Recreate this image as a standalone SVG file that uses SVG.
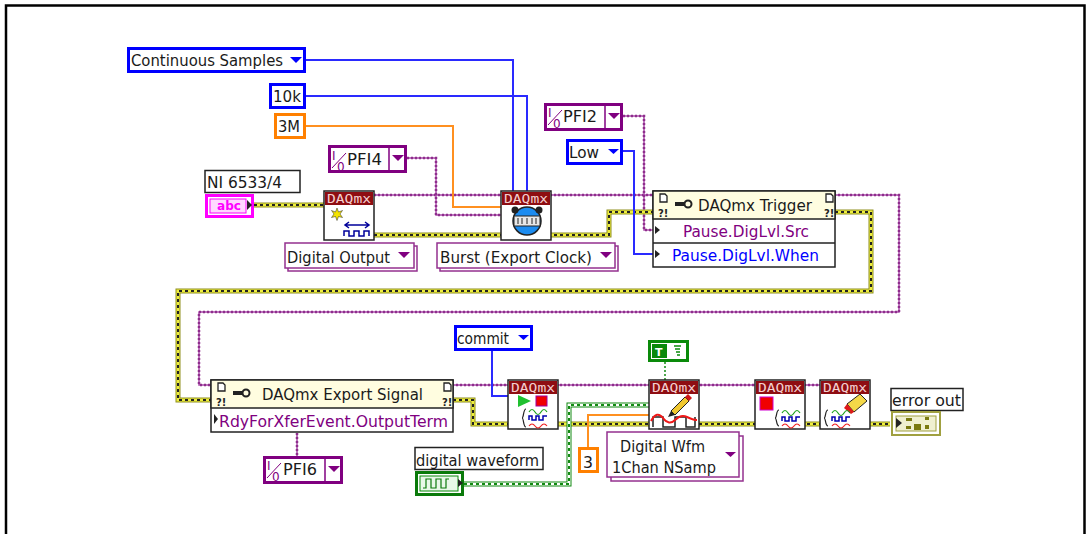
<svg xmlns="http://www.w3.org/2000/svg" width="1086" height="534" viewBox="0 0 1086 534">
<style>
text{font-family:"DejaVu Sans","Liberation Sans",sans-serif;font-size:16px;fill:#1a1a1a}
.box{fill:#fff}
.blue{stroke:#0000ff;stroke-width:3}
.orange{stroke:#ff8000;stroke-width:3}
.pur{stroke:#800080;stroke-width:3}
.ring{fill:#fff;stroke:#94308f;stroke-width:1.5}
.lab{fill:#fff;stroke:#222;stroke-width:1.5}
.node{fill:#fff;stroke:#222;stroke-width:1.5}
.head{fill:#8e0d12}
.hd{font-family:"DejaVu Sans Mono","Liberation Mono",monospace;font-size:13px;fill:#f4d0d0}
.pn{fill:#fffde0;stroke:#222;stroke-width:1.5}
.tri{fill:#800080}
.tb{fill:#0000ff}
.io{font-size:12px;fill:#800080}
.w{fill:none}
.yo{stroke:#8f8f1e;stroke-width:5}
.yy{stroke:#eeee40;stroke-width:3}
.yk{stroke:#222;stroke-width:2;stroke-dasharray:3 3}
.po{stroke:#a848a8;stroke-width:1.500}
.pd{stroke:#8e2d8c;stroke-width:2.500;stroke-dasharray:2 2}
.bw{stroke:#2a2aff;stroke-width:2}
.ow{stroke:#ff9020;stroke-width:2}
.go{stroke:#128a12;stroke-width:5}
.gw{stroke:#fff;stroke-width:3}
.gk{stroke:#128a12;stroke-width:2;stroke-dasharray:3 3}
.ic{fill:none;stroke:#00009a;stroke-width:1.5}
.rw{fill:none;stroke:#f02020;stroke-width:1.200}
.gn{fill:none;stroke:#18a018;stroke-width:1.200}
.bn{fill:none;stroke:#0000b0;stroke-width:1.500}
.bk{fill:none;stroke:#222;stroke-width:1.200}
.doc{fill:#fff;stroke:#222;stroke-width:1.300}
.ex{font-size:10px;font-weight:bold;fill:#222}
</style>
<defs>
<g id="hdr"><rect class="node" x="0" y="0" width="50" height="49"/><rect class="head" x="1" y="1" width="48" height="13"/></g>
</defs>
<path fill="none" stroke="#000" stroke-width="2.5" d="M6 534V5.500H1084.500V534"/>
<g id="connectors">
<path class="w po" d="M374 195H899V312H199V385H820"/><path class="w pd" d="M374 195H899V312H199V385H820"/>
<path class="w po" d="M407 158H436V215H501M623 116H644V230H653M297 433V456"/><path class="w pd" d="M407 158H436V215H501M623 116H644V230H653M297 433V456"/>
<path class="w yo" d="M254 205H324M374 235H609V212H653M835 212H871V291H178V400H211M453 400H473V424H890"/>
<path class="w yy" d="M254 205H324M374 235H609V212H653M835 212H871V291H178V400H211M453 400H473V424H890"/>
<path class="w yk" d="M254 205H324M374 235H609V212H653M835 212H871V291H178V400H211M453 400H473V424H890"/>
<path class="w go" d="M464 484H569V405H649"/><path class="w gw" d="M464 484H569V405H649"/><path class="w gk" d="M464 484H569V405H649"/>
<path class="w bw" d="M306 60H513V191M306 96H527V191M623 151H634V254H653M492 351V396H508"/>
<path class="w ow" d="M306 126H453V207H501M588 447V415H649"/>
<path fill="none" stroke="#128a12" stroke-width="1.500" stroke-dasharray="2 2" d="M665 362V380"/>
</g>
<g id="continuous-samples"><rect class="box blue" x="128.500" y="48.500" width="176" height="23"/><text x="131" y="66" textLength="152" lengthAdjust="spacingAndGlyphs">Continuous Samples</text><path class="tb" d="M290 57h12l-6 6z"/></g>
<g id="const-10k"><rect class="box blue" x="270.500" y="84.500" width="34" height="23"/><text x="273" y="102" textLength="28" lengthAdjust="spacingAndGlyphs">10k</text></g>
<g id="const-3m"><rect class="box orange" x="275.500" y="114.500" width="29" height="23"/><text x="278" y="132" textLength="22" lengthAdjust="spacingAndGlyphs">3M</text></g>
<g id="pfi4"><rect class="box pur" x="329.500" y="146.500" width="76" height="25"/><path stroke="#800080" stroke-width="1.500" d="M389 147V171"/><text x="347" y="165" textLength="35" lengthAdjust="spacingAndGlyphs">PFI4</text><text class="io" x="332" y="160">I</text><text class="io" x="337" y="171">0</text><path stroke="#800080" d="M332 168L346 153"/><path class="tri" d="M392 155h12l-6 6z"/></g>
<g id="device-label"><rect class="lab" x="205" y="170.500" width="95" height="22"/><text x="207" y="188" textLength="75" lengthAdjust="spacingAndGlyphs">NI 6533/4</text></g>
<g id="device-terminal"><rect fill="#fff" stroke="#ff00ff" stroke-width="3" x="206.500" y="195.500" width="46" height="21"/><rect fill="#ffd8ff" stroke="#ff00ff" x="210" y="199" width="36" height="14"/><text x="217" y="210" textLength="24" lengthAdjust="spacingAndGlyphs" style="font-size:12px;font-weight:bold;fill:#ff00ff">abc</text><path d="M247 200l5 5-5 5z" fill="#222"/></g>
<g id="create-channel"><use href="#hdr" x="324" y="191"/><text class="hd" x="327" y="203" textLength="44" lengthAdjust="spacingAndGlyphs">DAQmx</text><path d="M337 208l1.500 4 4-1.500-2.500 3.500 2.500 3.500-4-1-1.500 4-1.500-4-4 1 2.500-3.500-2.500-3.500 4 1.500z" fill="#f4e400" stroke="#222" stroke-width=".5"/><path class="ic" d="M346 225H368M349 222l-4 3 4 3M365 222l4 3-4 3M344 236v-5h5v5h5v-5h5v5h5v-5h5v5"/></g>
<g id="digital-output"><rect class="ring" x="288" y="246" width="129" height="25"/><rect class="ring" x="285" y="243" width="129" height="25"/><text x="287" y="263" textLength="103" lengthAdjust="spacingAndGlyphs">Digital Output</text><path class="tri" d="M398 252h12l-6 6z"/></g>
<g id="timing"><use href="#hdr" x="501" y="191"/><text class="hd" x="504" y="203" textLength="44" lengthAdjust="spacingAndGlyphs">DAQmx</text><circle cx="527" cy="221" r="14" fill="#1c8cf0" stroke="#222" stroke-width="1.500"/><circle cx="515" cy="210" r="3.500" fill="#222"/><circle cx="539" cy="210" r="3.500" fill="#222"/><rect x="514" y="216" width="26" height="10" fill="#e8e8e8" stroke="#222"/><path stroke="#222" d="M518 218v6M522 218v6M527 218v6M532 218v6M536 218v6"/></g>
<g id="burst"><rect class="ring" x="440" y="246" width="178" height="25"/><rect class="ring" x="437" y="243" width="178" height="25"/><text x="440" y="263" textLength="152" lengthAdjust="spacingAndGlyphs">Burst (Export Clock)</text><path class="tri" d="M600 252h12l-6 6z"/></g>
<g id="pfi2"><rect class="box pur" x="545.500" y="104.500" width="76" height="25"/><path stroke="#800080" stroke-width="1.500" d="M605 105V129"/><text x="563" y="122" textLength="34" lengthAdjust="spacingAndGlyphs">PFI2</text><text class="io" x="548" y="117">I</text><text class="io" x="553" y="128">0</text><path stroke="#800080" d="M548 125L562 110"/><path class="tri" d="M608 113h12l-6 6z"/></g>
<g id="low"><rect class="box blue" x="567.500" y="140.500" width="54" height="23"/><text x="569" y="158" textLength="30" lengthAdjust="spacingAndGlyphs">Low</text><path class="tb" d="M608 149h11l-5.500 5z"/></g>
<g id="trigger"><rect class="box" x="653" y="191" width="182" height="76" stroke="#222" stroke-width="1.500"/><rect class="pn" x="653" y="191" width="182" height="28"/><path d="M653 243H835" stroke="#222" stroke-width="1.500"/><path class="doc" d="M660 194h5l2 2v6h-7z"/><path class="doc" d="M826 194h5l2 2v6h-7z"/><text class="ex" x="658" y="217">?!</text><text class="ex" x="824" y="217">?!</text><path d="M675 204h10" stroke="#222" stroke-width="4"/><circle cx="688" cy="204" r="3.500" fill="none" stroke="#222" stroke-width="2"/><text x="698" y="211" textLength="114" lengthAdjust="spacingAndGlyphs">DAQmx Trigger</text><path d="M655 226l5 4-5 4zM655 250l5 4-5 4z" fill="#222"/><text x="683" y="237" textLength="126" lengthAdjust="spacingAndGlyphs" style="fill:#800080">Pause.DigLvl.Src</text><text x="672" y="261" textLength="147" lengthAdjust="spacingAndGlyphs" style="fill:#0000ff">Pause.DigLvl.When</text></g>
<g id="export-signal"><rect class="box" x="211" y="380" width="242" height="52" stroke="#222" stroke-width="1.500"/><rect class="pn" x="211" y="380" width="242" height="28"/><path class="doc" d="M218 383h5l2 2v6h-7z"/><path class="doc" d="M444 383h5l2 2v6h-7z"/><text class="ex" x="216" y="406">?!</text><text class="ex" x="442" y="406">?!</text><path d="M233 393h10" stroke="#222" stroke-width="4"/><circle cx="246" cy="393" r="3.500" fill="none" stroke="#222" stroke-width="2"/><text x="262" y="400" textLength="161" lengthAdjust="spacingAndGlyphs">DAQmx Export Signal</text><path d="M214 414l4 5-4 5z" fill="#222"/><text x="219" y="427" textLength="229" lengthAdjust="spacingAndGlyphs" style="fill:#800080">RdyForXferEvent.OutputTerm</text></g>
<g id="pfi6"><rect class="box pur" x="264.500" y="457.500" width="77" height="25"/><path stroke="#800080" stroke-width="1.500" d="M325 458V482"/><text x="283" y="475" textLength="34" lengthAdjust="spacingAndGlyphs">PFI6</text><text class="io" x="267" y="470">I</text><text class="io" x="272" y="481">0</text><path stroke="#800080" d="M267 478L281 463"/><path class="tri" d="M328 466h12l-6 6z"/></g>
<g id="commit"><rect class="box blue" x="455.500" y="326.500" width="76" height="23"/><text x="457" y="344" textLength="52" lengthAdjust="spacingAndGlyphs">commit</text><path class="tb" d="M518 335h11l-5.500 5z"/></g>
<g id="start"><use href="#hdr" x="508" y="380"/><text class="hd" x="511" y="392" textLength="44" lengthAdjust="spacingAndGlyphs">DAQmx</text><path d="M518 395l13 6-13 6z" fill="#20c030"/><rect x="536" y="396" width="11" height="10" fill="#f00000" stroke="#a000a0"/><path class="bk" d="M526 409c-3 0-2 9-4 9 2 0 1 9 4 9"/><path class="gn" d="M529 412q3-5 6 0t6 0 6 0"/><path class="bn" d="M529 420v-4h3v4h4v-4h3v4h4v-4h4"/><path class="rw" d="M529 426q3-4 6 0t6 0 6 0"/></g>
<g id="write"><use href="#hdr" x="649" y="380"/><text class="hd" x="652" y="392" textLength="44" lengthAdjust="spacingAndGlyphs">DAQmx</text><path d="M671 411l14-14 4 4-14 14z" fill="#f0c830" stroke="#222"/><path d="M685 397l3-3 4 4-3 3z" fill="#d01818"/><path d="M671 411l-3 6 7-2z" fill="#222"/><path fill="none" stroke="#222" stroke-width="1.500" d="M653 427v-10h10v10h12v-10h11v10h9v-10"/><path d="M651 421q6-11 12-3t12 2 12-3 10 3" fill="none" stroke="#f01818" stroke-width="2"/></g>
<g id="true-const"><rect fill="#fff" stroke="#0a8a0a" stroke-width="3" x="649.500" y="341.500" width="38" height="19"/><rect x="652" y="344" width="15" height="14" fill="#0a8a0a"/><text x="655" y="356" style="font-size:11px;font-weight:bold;fill:#fff">T</text><path d="M674 346h7M675 349h5M676 352h4M677 355h3" stroke="#0a8a0a" stroke-width="1.300"/></g>
<g id="digital-waveform-label"><rect class="lab" x="415" y="447.500" width="128" height="22"/><text x="416" y="466" textLength="123" lengthAdjust="spacingAndGlyphs">digital waveform</text></g>
<g id="digital-waveform"><rect fill="#fff" stroke="#0a7a0a" stroke-width="3" x="416.500" y="472.500" width="46" height="22"/><rect x="420" y="476" width="38" height="15" fill="#e8f8e8" stroke="#0a8a0a"/><path fill="none" stroke="#0a7a0a" stroke-width="1.200" d="M423 488h3v-9h5v9h5v-9h5v9h5v-9h3"/><path d="M458 479l5 4-5 4z" fill="#222"/></g>
<g id="const-3"><rect class="box orange" x="579.500" y="448.500" width="18" height="23"/><text x="583" y="468" textLength="10" lengthAdjust="spacingAndGlyphs">3</text></g>
<g id="wfm"><rect class="ring" x="611" y="436" width="132" height="45"/><rect class="ring" x="607" y="432" width="132" height="45"/><text x="620" y="452" textLength="85" lengthAdjust="spacingAndGlyphs">Digital Wfm</text><text x="612" y="473" textLength="104" lengthAdjust="spacingAndGlyphs">1Chan NSamp</text><path class="tri" d="M725 452h11l-5.500 5z"/></g>
<g id="stop"><use href="#hdr" x="755" y="380"/><text class="hd" x="758" y="392" textLength="44" lengthAdjust="spacingAndGlyphs">DAQmx</text><rect x="760" y="397" width="13" height="13" fill="#f00000" stroke="#d000d0"/><path class="bk" d="M779 410c-3 0-2 8-4 8 2 0 1 8 4 8"/><path class="gn" d="M782 413q3-5 6 0t6 0 6 0"/><path class="bn" d="M782 421v-4h3v4h4v-4h3v4h4v-4h4"/><path class="rw" d="M782 426q3-4 6 0t6 0 6 0"/></g>
<g id="clear"><use href="#hdr" x="820" y="380"/><text class="hd" x="823" y="392" textLength="44" lengthAdjust="spacingAndGlyphs">DAQmx</text><path d="M847 404l13-10 7 7-13 11z" fill="#f4d848" stroke="#222"/><path d="M847 404l7 8-3 2-7-6z" fill="#e01818"/><path class="bk" d="M828 410c-3 0-2 8-4 8 2 0 1 8 4 8"/><path class="gn" d="M832 413q3-5 6 0t6 0 6 0"/><path class="bn" d="M832 421v-4h3v4h4v-4h3v4h4v-4h4"/><path class="rw" d="M832 426q3-4 6 0t6 0 6 0"/></g>
<g id="error-out-label"><rect class="lab" x="891" y="388.500" width="72" height="22"/><text x="892" y="406" textLength="69" lengthAdjust="spacingAndGlyphs">error out</text></g>
<g id="error-out"><rect fill="#fff" stroke="#a0a040" stroke-width="2" x="892" y="412" width="48" height="23"/><rect x="896" y="416" width="40" height="15" fill="#f0f0d0" stroke="#a0a040"/><path d="M896 418l6 5-6 5z" fill="#222"/><path d="M906 418h6v3h-6zM906 426h5v3h-5zM914 424h7v6h-7zM925 417h4v3h-4zM925 425h4v4h-4z" fill="#7a7a10"/></g>
</svg>
